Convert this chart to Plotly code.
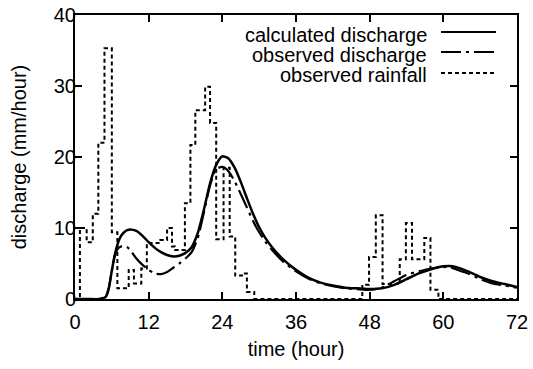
import plotly.graph_objects as go

# discharge time axis (hours)
time_h = [0, 2, 4, 5, 5.5, 6, 6.5, 7, 7.5, 8, 8.5, 9, 10, 11, 12, 13, 14, 15, 16, 17, 18, 19,
          20, 21, 22, 23, 24, 25, 26, 27, 28, 29, 30, 31, 32, 34, 36, 38, 40, 42, 44, 46, 48,
          50, 52, 54, 56, 58, 60, 61, 62, 64, 66, 68, 70, 72]
calc_q = [0, 0, 0, 0.3, 1.5, 4.0, 6.3, 7.9, 8.9, 9.4, 9.7, 9.8, 9.6, 8.9, 8.0, 7.2, 6.6, 6.2, 6.0,
          6.1, 6.5, 7.3, 9.3, 12.6, 16.3, 18.9, 20.1, 19.8, 18.5, 16.5, 14.2, 12.0, 10.1, 8.6,
          7.4, 5.5, 4.1, 3.0, 2.3, 1.9, 1.6, 1.5, 1.4, 1.5, 2.0, 2.8, 3.6, 4.2, 4.6, 4.65, 4.5,
          3.9, 3.1, 2.5, 2.1, 1.7]
obs_q = [0, 0, 0, 0.3, 1.5, 4.0, 6.1, 7.1, 7.4, 7.5, 7.3, 6.9, 5.7, 4.8, 4.1, 3.6, 3.5, 3.8, 4.4,
         5.0, 5.7, 6.6, 8.6, 12.2, 16.0, 18.3, 18.6, 18.0, 16.6, 14.8, 12.9, 11.0, 9.4, 8.1,
         7.0, 5.2, 3.9, 2.9, 2.2, 1.8, 1.5, 1.4, 1.3, 1.6, 2.5, 3.4, 3.9, 4.3, 4.5, 4.5, 4.2,
         3.6, 2.8, 2.2, 1.9, 1.6]

# observed rainfall, step starts (hours) and values (mm/hour)
rain_t = [0, 0.8, 1.9, 2.9, 3.8, 4.8, 6.0, 6.9, 8.75, 9.6, 10.8, 11.7, 13.9, 15.0, 15.8, 16.3,
          17.9, 18.8, 19.6, 21.2, 22.0, 23.0, 24.2, 25.2, 26.1, 27.5, 28.0, 29.2,
          46.8, 47.9, 49.0, 50.1, 52.9, 53.9, 54.9, 56.9, 57.9, 59.2, 72]
rain_v = [0, 10, 8, 12, 22, 35.3, 9.4, 1.5, 4.1, 2.2, 4.3, 7.9, 8.3, 10, 7.4, 6.9,
          13.5, 21.7, 26.6, 29.9, 24.8, 8.4, 18.5, 8.8, 3.3, 3.6, 1.0, 0,
          2.0, 5.9, 11.8, 2.1, 5.6, 10.7, 5.6, 8.6, 1.3, 0, 0]

legend_names = ["calculated discharge", "observed discharge", "observed rainfall"]
x_ticks = [0, 12, 24, 36, 48, 60, 72]
y_ticks = [0, 10, 20, 30, 40]

FONT = "Liberation Sans, Arial, sans-serif"
dash_obs = "20px,5px,3px,5px"
dash_rain = "4px,3px"

fig = go.Figure()
fig.add_trace(go.Scatter(x=rain_t, y=rain_v, mode="lines", line=dict(color="black", width=2, dash=dash_rain, shape="hv"),
                         showlegend=False))
fig.add_trace(go.Scatter(x=time_h, y=obs_q, mode="lines", line=dict(color="black", width=2.2, dash=dash_obs, shape="spline", smoothing=0.6),
                         showlegend=False))
fig.add_trace(go.Scatter(x=time_h, y=calc_q, mode="lines", line=dict(color="black", width=2.5, shape="spline", smoothing=0.6),
                         showlegend=False))

W, H = 533, 369
ml, mr, mt, mb = 75, 16, 15, 70
pw, ph = W - ml - mr, H - mt - mb

def px(xp):
    return (xp - ml) / pw

def py(yp):
    return 1 - (yp - mt) / ph

rows_text = [35, 55, 75]
rows_line = [32, 52, 73]
dashes = ["solid", dash_obs, dash_rain]
for name, yt, yl, d in zip(legend_names, rows_text, rows_line, dashes):
    fig.add_annotation(x=px(428), y=py(yt), xref="paper", yref="paper", text=name, showarrow=False,
                       xanchor="right", yanchor="middle", borderpad=0,
                       font=dict(family=FONT, size=20, color="black"))
    fig.add_shape(type="line", xref="paper", yref="paper", x0=px(441), x1=px(496), y0=py(yl), y1=py(yl),
                  line=dict(color="black", width=2, dash=d))

axis_common = dict(showline=True, linecolor="black", linewidth=2, mirror="allticks", ticks="inside",
                   ticklen=7, tickwidth=1.5, tickcolor="black", showgrid=False, zeroline=False,
                   automargin=False, tickfont=dict(family=FONT, size=20, color="black"))
fig.update_xaxes(range=[0, 72], tickvals=x_ticks, ticklabelstandoff=4,
                 title=dict(text="time (hour)", font=dict(family=FONT, size=20, color="black"), standoff=10),
                 **axis_common)
fig.update_yaxes(range=[0, 40], tickvals=y_ticks, ticklabelstandoff=-7,
                 title=dict(text="discharge (mm/hour)", font=dict(family=FONT, size=20, color="black"), standoff=22),
                 **axis_common)
fig.update_layout(width=W, height=H, margin=dict(l=ml, r=mr, t=mt, b=mb), plot_bgcolor="white", paper_bgcolor="white")

fig.write_html("out.html", config={"displayModeBar": False},
               post_script="document.body.style.margin='0px';document.body.style.padding='0px';")
